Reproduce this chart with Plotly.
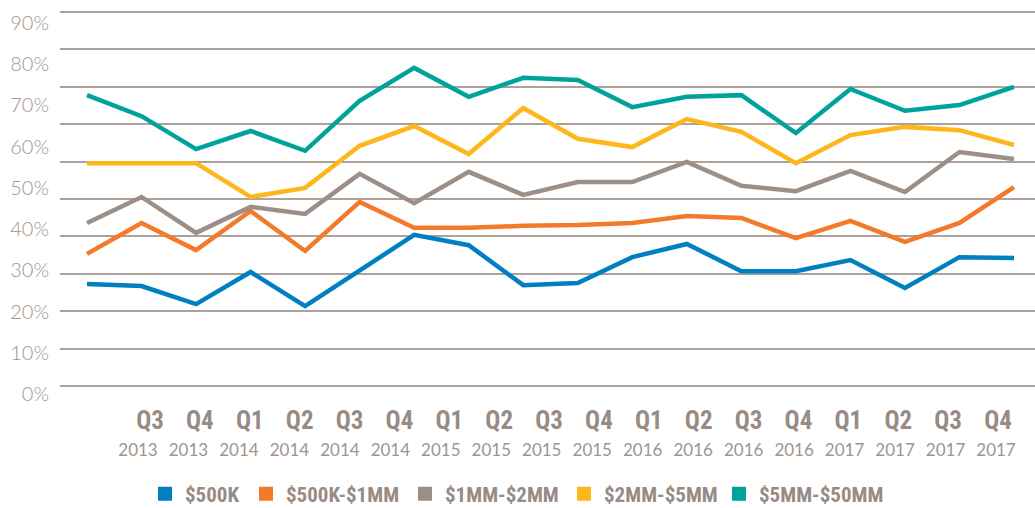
import plotly.graph_objects as go

# ---------------- data ----------------
quarters = ["Q3", "Q4", "Q1", "Q2", "Q3", "Q4", "Q1", "Q2", "Q3", "Q4",
            "Q1", "Q2", "Q3", "Q4", "Q1", "Q2", "Q3", "Q4"]
years = ["2013", "2013", "2014", "2014", "2014", "2014", "2015", "2015", "2015",
         "2015", "2016", "2016", "2016", "2016", "2017", "2017", "2017", "2017"]

series_names = ["$500K", "$500K-$1MM", "$1MM-$2MM", "$2MM-$5MM", "$5MM-$50MM"]
under_500k = [26.7, 26.2, 21.8, 29.6, 21.3, 29.8, 38.6, 36.1, 26.4, 26.9, 33.2, 36.4, 29.8, 29.8, 32.5, 25.7, 33.2, 33.0]
k500_1mm = [34.0, 41.5, 34.9, 44.4, 34.7, 46.6, 40.3, 40.3, 40.8, 41.0, 41.5, 43.2, 42.7, 37.8, 42.0, 36.9, 41.5, 50.2]
mm1_2 = [41.5, 47.8, 39.1, 45.4, 43.7, 53.4, 46.3, 53.9, 48.3, 51.4, 51.4, 56.3, 50.5, 49.2, 54.1, 49.0, 58.7, 57.0]
mm2_5 = [56.0, 56.0, 56.0, 47.8, 50.0, 60.2, 65.0, 58.2, 69.4, 61.9, 59.9, 66.7, 63.6, 56.0, 62.8, 64.8, 64.0, 60.4]
mm5_50 = [72.5, 67.4, 59.4, 63.8, 59.0, 71.1, 79.1, 72.1, 76.7, 76.2, 69.6, 72.1, 72.5, 63.3, 74.0, 68.7, 70.1, 74.5]
y_tick_values = [0, 10, 20, 30, 40, 50, 60, 70, 80, 90]
y_tick_labels = ["0%", "10%", "20%", "30%", "40%", "50%", "60%", "70%", "80%", "90%"]
grid_steps = list(range(11))

series_values = [under_500k, k500_1mm, mm1_2, mm2_5, mm5_50]
colors = ["#0080c0", "#f47a2b", "#9c8f88", "#fdb61c", "#00a39b"]

# ---------------- layout geometry ----------------
W, H = 1035, 508
ML, MR, MT, MB = 60, 0, 5, 108
PL, PR = ML, W - MR
PT, PB = MT, H - MB


def rng(v0, p0, v1, p1, lo, hi):
    s = (p1 - p0) / (v1 - v0)
    return [v0 + (lo - p0) / s, v0 + (hi - p0) / s]


idx = list(range(len(quarters)))
n = len(idx)
x_data_range = rng(0, 87, n - 1, 1014, PL, PR)
x_q_range = rng(0, 150, n - 1, 998, PL, PR)
x_y_range = rng(0, 138, n - 1, 996, PL, PR)
y_data_range = rng(0, 394, 90, 23, PB, PT)
y_grid_range = rng(0, 386, 10, 12, PB, PT)

label_color = "#a0958e"
cond_font = "Liberation Sans Narrow, Roboto Condensed, DejaVu Sans Condensed, Arial Narrow, sans-serif"
geo_font = "Lato, Open Sans, sans-serif"

fig = go.Figure()

# helper traces so the overlay axes exist
fig.add_trace(go.Scatter(x=idx, y=[None] * n, xaxis="x", yaxis="y2", mode="lines",
                         showlegend=False, hoverinfo="skip"))
fig.add_trace(go.Scatter(x=idx, y=[None] * n, xaxis="x2", yaxis="y", mode="lines",
                         showlegend=False, hoverinfo="skip"))
fig.add_trace(go.Scatter(x=idx, y=[None] * n, xaxis="x3", yaxis="y", mode="lines",
                         showlegend=False, hoverinfo="skip"))

for name, vals, col in zip(series_names, series_values, colors):
    fig.add_trace(go.Scatter(x=idx, y=vals, mode="lines", name=name,
                             line=dict(color=col, width=4.5), showlegend=False,
                             legendgroup=name))

# legend entries (square swatches), one legend per item for exact placement
square_centers = [170, 271, 430, 589, 744]
for i, (name, col) in enumerate(zip(series_names, colors)):
    lg = "legend" if i == 0 else f"legend{i + 1}"
    fig.add_trace(go.Scatter(x=[None], y=[None], mode="markers", name=name,
                             marker=dict(symbol="square", size=14, color=col),
                             legend=lg, legendgroup=name, showlegend=True))

legend_common = dict(orientation="h", yanchor="middle", xanchor="left",
                     bgcolor="rgba(0,0,0,0)", borderwidth=0,
                     font=dict(family=cond_font, size=21, color="#978b84", weight="bold"),
                     itemsizing="trace")
for i, c in enumerate(square_centers):
    key = "legend" if i == 0 else f"legend{i + 1}"
    fig.update_layout({key: dict(legend_common, x=(c - 25 - PL) / (PR - PL),
                                 y=(PB - 494) / (PB - PT))})

fig.update_layout(
    width=W, height=H,
    margin=dict(l=ML, r=MR, t=MT, b=MB, autoexpand=False),
    paper_bgcolor="white", plot_bgcolor="white",
    showlegend=True,
    xaxis=dict(range=x_data_range, showgrid=False, zeroline=False, showticklabels=False,
               showline=False, ticks=""),
    xaxis2=dict(overlaying="x", anchor="y", side="bottom", range=x_q_range,
                tickmode="array", tickvals=idx, ticktext=quarters,
                showgrid=False, zeroline=False, showline=False, ticks="",
                ticklabelstandoff=3,
                tickfont=dict(family=cond_font, size=25, color="#978b84", weight="bold")),
    xaxis3=dict(overlaying="x", anchor="y", side="bottom", range=x_y_range,
                tickmode="array", tickvals=idx, ticktext=years,
                showgrid=False, zeroline=False, showline=False, ticks="",
                ticklabelstandoff=38,
                tickfont=dict(family=geo_font, size=17, color=label_color)),
    yaxis=dict(range=y_data_range, tickmode="array", tickvals=y_tick_values,
               ticktext=y_tick_labels, showgrid=False, zeroline=False, showline=False,
               ticks="", ticklabelstandoff=10,
               tickfont=dict(family=geo_font, size=20, color=label_color, weight=300)),
    yaxis2=dict(overlaying="y", side="left", range=y_grid_range, tickmode="array",
                tickvals=grid_steps, showticklabels=False, showgrid=True,
                gridcolor="#aca29b", gridwidth=1.5, zeroline=False, showline=False,
                ticks=""),
)

fig.write_html("out.html", config={"displayModeBar": False},
               post_script="document.body.style.margin='0';")
